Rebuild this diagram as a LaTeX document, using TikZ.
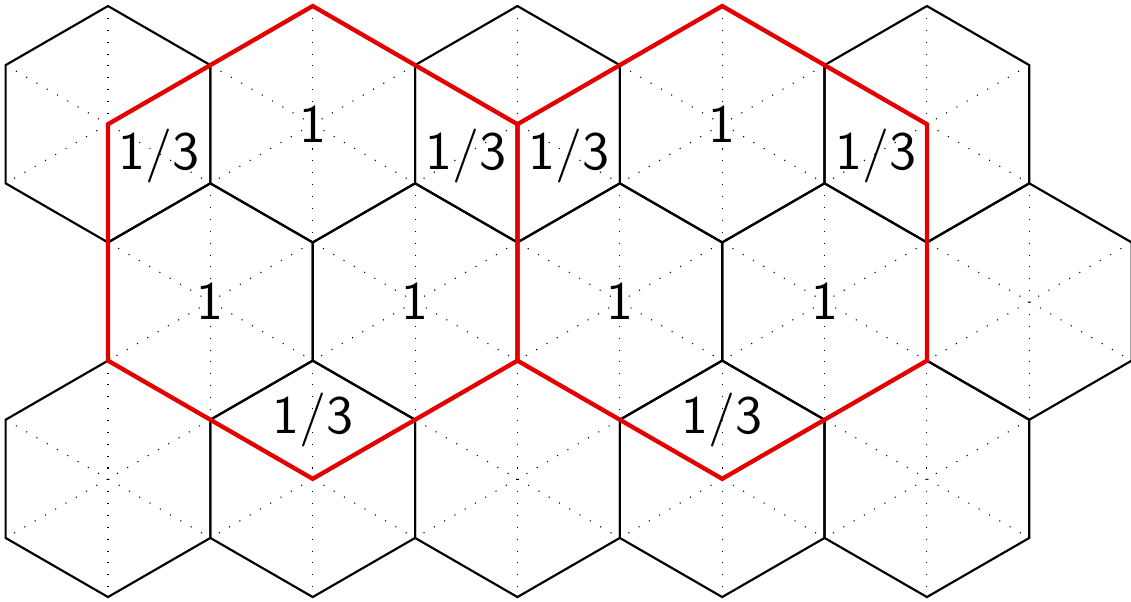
\documentclass[tikz,border=0pt]{standalone}
\usepackage{amsmath}
\usepackage{amssymb}
\usepackage{tikz}

\begin{document}
\begin{tikzpicture}[x=0.77cm,y=0.77cm,
		cell/.style={thin,black},
		diag/.style={very thin,dotted},
		region/.style={thick,red!90!black,line join=miter},
		wt/.style={font=\sffamily}]
			\useasboundingbox (-0.9137,1.0508) rectangle (8.655,-4.034);
			% hexagonal cells, three rows
			\foreach \row/\off in {0/0,1/0.5,2/0}
				\foreach \i in {0,...,4}
				{
					\coordinate (c) at ({(\i+\off)*sqrt(3)},{-1.5*\row});
					\draw[diag] (c) +(90:1) -- +(270:1);
					\draw[diag] (c) +(30:1) -- +(210:1);
					\draw[diag] (c) +(150:1) -- +(330:1);
					\draw[cell] (c) +(90:1) -- +(150:1) -- +(210:1) -- +(270:1) -- +(330:1) -- +(30:1) -- cycle;
				}
			% two large hexagons
			\coordinate (ca) at ({sqrt(3)},-1);
			\coordinate (cb) at ({3*sqrt(3)},-1);
			\draw[region] (ca) +(90:2) -- +(150:2) -- +(210:2) -- +(270:2) -- +(330:2) -- +(30:2) -- cycle;
			\draw[region] (cb) +(90:2) -- +(150:2) -- +(210:2) -- +(270:2) -- +(330:2) -- +(30:2) -- cycle;
			% weights
			\node[wt] (a1) at (0.433,-0.27) {1/3};
			\node[wt] (a2) at ({sqrt(3)},0) {1};
			\node[wt] (a3) at ({2*sqrt(3)-0.433},-0.27) {1/3};
			\node[wt] (b1) at ({2*sqrt(3)+0.433},-0.27) {1/3};
			\node[wt] (b2) at ({3*sqrt(3)},0) {1};
			\node[wt] (b3) at ({4*sqrt(3)-0.433},-0.27) {1/3};
			\node[wt] (m1) at ({0.5*sqrt(3)},-1.5) {1};
			\node[wt] (m2) at ({1.5*sqrt(3)},-1.5) {1};
			\node[wt] (m3) at ({2.5*sqrt(3)},-1.5) {1};
			\node[wt] (m4) at ({3.5*sqrt(3)},-1.5) {1};
			\node[wt] (a4) at ({sqrt(3)},-2.5) {1/3};
			\node[wt] (b4) at ({3*sqrt(3)},-2.5) {1/3};
		\end{tikzpicture}
\end{document}
